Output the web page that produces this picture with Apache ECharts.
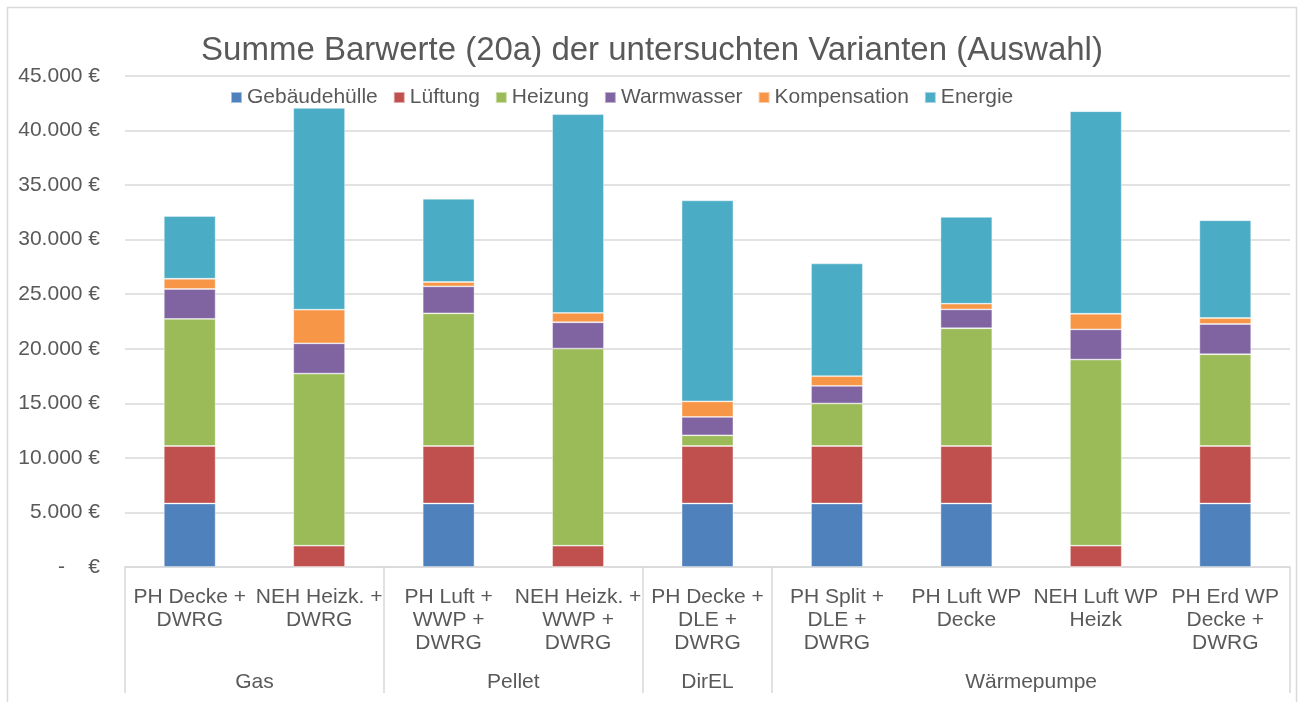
<!DOCTYPE html>
<html>
<head>
<meta charset="utf-8">
<script src="https://cdn.jsdelivr.net/npm/echarts@6/dist/echarts.min.js"></script>
<style>
  html, body { margin: 0; padding: 0; background: #fff; }
  #main { width: 1304px; height: 702px; }
</style>
</head>
<body>
<div id="main"></div>
<script>
// Daten
var categories = ['PH Decke +\nDWRG', 'NEH Heizk. +\nDWRG', 'PH Luft +\nWWP +\nDWRG', 'NEH Heizk. +\nWWP +\nDWRG',
    'PH Decke +\nDLE +\nDWRG', 'PH Split +\nDLE +\nDWRG', 'PH Luft WP\nDecke', 'NEH Luft WP\nHeizk', 'PH Erd WP\nDecke +\nDWRG'];
var groupNames = ['Gas', 'Pellet', 'DirEL', 'Wärmepumpe'];
var groupSizes = [2, 2, 1, 4];

var gebaeudehuelle = [5820, 0, 5820, 0, 5820, 5820, 5820, 0, 5820];
var lueftung = [5270, 1950, 5270, 1950, 5270, 5270, 5270, 1950, 5270];
var heizung = [11650, 15780, 12160, 18070, 980, 3900, 10790, 17060, 8410];
var warmwasser = [2740, 2770, 2470, 2410, 1680, 1610, 1730, 2770, 2770];
var kompensation = [940, 3080, 400, 860, 1430, 890, 520, 1430, 550];
var energie = [5750, 18490, 7630, 18210, 18420, 10330, 7950, 18560, 8960];

var yTicks = [0, 5000, 10000, 15000, 20000, 25000, 30000, 35000, 40000, 45000];

var seriesNames = ['Gebäudehülle', 'Lüftung', 'Heizung', 'Warmwasser', 'Kompensation', 'Energie'];
var seriesData = [gebaeudehuelle, lueftung, heizung, warmwasser, kompensation, energie];
var colors = ['#4f81bd', '#c0504d', '#9bbb59', '#8064a2', '#f79646', '#4bacc6'];

// Gruppengrenzen und -mitten fuer die zweite Achsenebene
var bounds = [0];
var centers = [];
groupSizes.forEach(function(n) {
    var start = bounds[bounds.length - 1];
    centers.push(start + n / 2);
    bounds.push(start + n);
});

var font = '"Liberation Sans", Arial, sans-serif';
var textColor = '#595959';

var myChart = echarts.init(document.getElementById('main'));

var option = {
    backgroundColor: '#fff',
    animation: false,
    color: colors,
    textStyle: { fontFamily: font },
    title: {
        text: 'Summe Barwerte (20a) der untersuchten Varianten (Auswahl)',
        left: 'center',
        top: 29,
        textStyle: {
            fontFamily: font,
            fontSize: 33,
            fontWeight: 'normal',
            color: textColor
        }
    },
    legend: {
        left: 225,
        top: 82,
        icon: 'rect',
        itemWidth: 11,
        itemHeight: 11,
        itemGap: 15,
        textStyle: { fontFamily: font, fontSize: 21, color: textColor },
        data: seriesNames
    },
    graphic: [{
        type: 'rect',
        shape: { x: 7.5, y: 7.5, width: 1289, height: 800 },
        style: { fill: 'none', stroke: '#d9d9d9', lineWidth: 1.5 },
        silent: true
    }],
    grid: {
        left: 125,
        right: 14,
        top: 76,
        bottom: 135,
        outerBoundsMode: 'none'
    },
    xAxis: [{
        type: 'category',
        data: categories,
        position: 'bottom',
        axisLine: { show: true, lineStyle: { color: '#d9d9d9', width: 1.5 } },
        axisTick: { show: false },
        axisLabel: {
            interval: 0,
            fontFamily: font,
            fontSize: 21,
            lineHeight: 23,
            color: textColor,
            margin: 19
        }
    }, {
        type: 'value',
        position: 'bottom',
        offset: 0,
        min: 0,
        max: categories.length,
        axisLine: { show: false },
        splitLine: { show: false },
        axisTick: {
            show: true,
            customValues: bounds,
            length: 126,
            lineStyle: { color: '#d9d9d9', width: 1.5 }
        },
        axisLabel: {
            customValues: centers,
            fontFamily: font,
            fontSize: 21,
            color: textColor,
            margin: 105,
            formatter: function(v) {
                return groupNames[centers.indexOf(v)];
            }
        }
    }],
    yAxis: {
        type: 'value',
        min: yTicks[0],
        max: yTicks[yTicks.length - 1],
        interval: 5000,
        axisLine: { show: false },
        axisTick: { show: false },
        splitLine: { lineStyle: { color: '#d9d9d9', width: 1.5 } },
        axisLabel: {
            fontFamily: font,
            fontSize: 21,
            color: textColor,
            margin: 25,
            formatter: function(v) {
                if (v === 0) return '-    €';
                return (v / 1000) + '.000 €';
            }
        }
    },
    series: seriesNames.map(function(name, i) {
        return {
            name: name,
            type: 'bar',
            stack: 'total',
            barWidth: '40%',
            xAxisIndex: 0,
            itemStyle: {
                color: colors[i],
                borderColor: 'rgba(255,255,255,0.5)',
                borderWidth: 0.8
            },
            data: seriesData[i]
        };
    })
};

myChart.setOption(option);
</script>
</body>
</html>
